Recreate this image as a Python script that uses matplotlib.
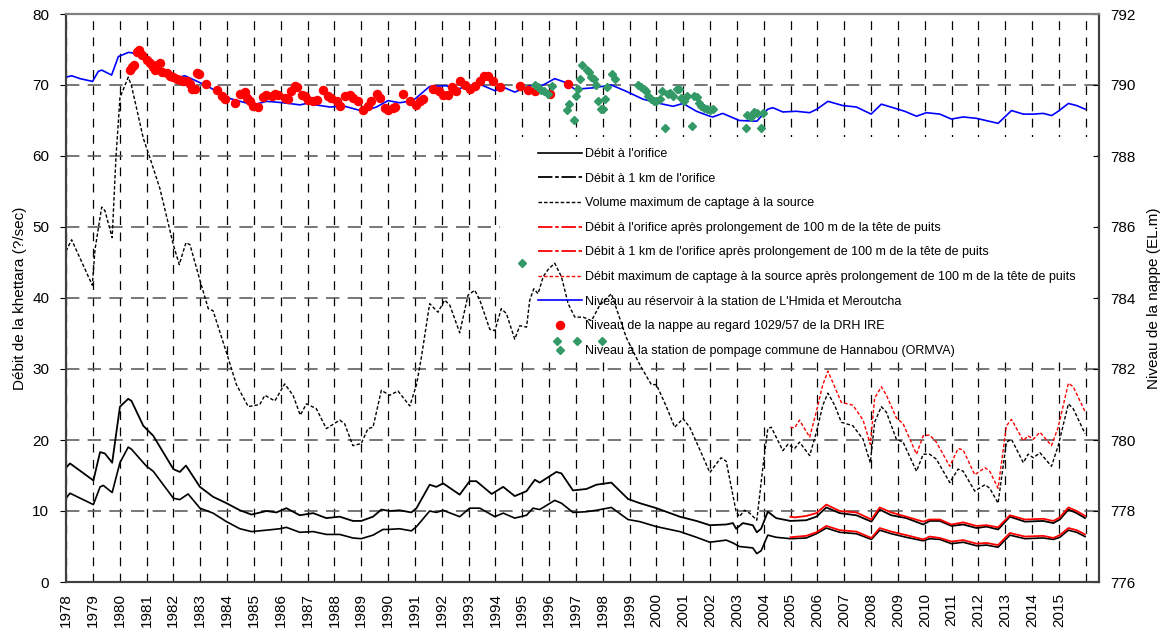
import matplotlib
matplotlib.use("Agg")
import matplotlib.pyplot as plt
from matplotlib.patches import Rectangle

plt.rcParams['font.family'] = ['Liberation Sans', 'DejaVu Sans']

# Débit à l'orifice (l/s)
yr_orif = [1978.0, 1978.15, 1979.02, 1979.27, 1979.39, 1979.72, 1980.01, 1980.32, 1980.44, 1981.0,
           1981.25, 1982.0, 1982.24, 1982.55, 1982.99, 1983.48, 1983.98, 1984.48, 1984.91, 1985.47,
           1985.97, 1986.21, 1986.71, 1987.21, 1987.7, 1988.2, 1988.69, 1989.0, 1989.44, 1989.81,
           1990.0, 1990.43, 1990.87, 1991.06, 1991.55, 1991.8, 1992.05, 1992.67, 1993.04, 1993.42,
           1993.98, 1994.29, 1994.72, 1995.16, 1995.4, 1995.65, 1996.21, 1996.46, 1996.89, 1997.39,
           1997.76, 1998.32, 1998.94, 1999.38, 2000.0, 2000.87, 2001.49, 2001.99, 2002.6, 2002.85,
           2003.09, 2003.59, 2003.74, 2003.9, 2004.15, 2004.46, 2004.99, 2005.58, 2005.96, 2006.33,
           2006.83, 2007.45, 2008.01, 2008.32, 2008.75, 2009.31, 2009.94, 2010.18, 2010.56, 2010.99,
           2011.43, 2011.93, 2012.3, 2012.73, 2013.17, 2013.73, 2014.41, 2014.79, 2015.03, 2015.35,
           2015.66, 2015.97]
q_orif = [11.8, 12.5, 10.9, 13.4, 13.6, 12.6, 16.8, 19.0, 18.7, 16.3,
          15.6, 11.8, 11.6, 12.4, 10.4, 9.7, 8.5, 7.5, 7.1, 7.3,
          7.5, 7.7, 7.0, 7.1, 6.7, 6.7, 6.2, 6.1, 6.6, 7.4,
          7.4, 7.5, 7.2, 7.8, 10.0, 9.8, 10.1, 9.2, 10.4, 10.4,
          9.2, 9.7, 9.0, 9.4, 10.4, 10.2, 11.5, 11.1, 9.8, 9.9,
          10.1, 10.5, 8.8, 8.5, 7.8, 7.1, 6.3, 5.6, 5.9, 5.5,
          5.0, 4.8, 4.0, 4.4, 6.6, 6.3, 6.1, 6.2, 6.8, 7.6,
          7.0, 6.8, 6.0, 7.3, 6.8, 6.3, 5.8, 6.1, 6.0, 5.4,
          5.6, 5.1, 5.2, 4.9, 6.6, 6.1, 6.2, 6.0, 6.3, 7.3,
          7.0, 6.4]

# Débit à 1 km de l'orifice
yr_1km = [1978.0, 1978.15, 1979.02, 1979.27, 1979.45, 1979.72, 1980.01, 1980.32, 1980.44, 1980.88,
          1981.25, 1982.0, 1982.24, 1982.47, 1982.99, 1983.48, 1983.98, 1984.48, 1984.91, 1985.47,
          1985.84, 1986.21, 1986.71, 1987.21, 1987.7, 1988.2, 1988.69, 1989.0, 1989.44, 1989.75,
          1990.06, 1990.43, 1990.87, 1991.06, 1991.55, 1991.8, 1992.05, 1992.67, 1993.04, 1993.29,
          1993.86, 1994.29, 1994.72, 1995.16, 1995.47, 1995.65, 1996.27, 1996.46, 1996.89, 1997.39,
          1997.76, 1998.32, 1998.94, 1999.38, 2000.0, 2000.87, 2001.49, 2001.99, 2002.6, 2002.85,
          2002.97, 2003.22, 2003.59, 2003.74, 2003.9, 2004.15, 2004.46, 2004.99, 2005.58, 2005.96,
          2006.33, 2006.83, 2007.45, 2008.01, 2008.32, 2008.75, 2009.31, 2009.94, 2010.18, 2010.56,
          2010.99, 2011.43, 2011.93, 2012.3, 2012.73, 2013.17, 2013.73, 2014.41, 2014.79, 2015.03,
          2015.35, 2015.66, 2015.97]
q_1km = [16.1, 16.7, 14.3, 18.3, 18.1, 16.8, 24.7, 25.8, 25.5, 22.0,
         20.6, 15.9, 15.5, 16.4, 13.4, 12.0, 11.1, 10.1, 9.5, 10.0,
         9.8, 10.4, 9.4, 9.7, 9.0, 9.2, 8.6, 8.6, 9.2, 10.2,
         10.0, 10.1, 9.8, 10.4, 13.7, 13.4, 13.9, 12.3, 14.2, 14.2,
         12.4, 13.4, 12.1, 12.8, 14.4, 14.0, 15.5, 15.3, 12.9, 13.1,
         13.7, 14.0, 11.7, 11.1, 10.4, 9.2, 8.6, 8.0, 8.1, 8.3,
         7.5, 8.3, 8.0, 7.0, 7.5, 9.9, 9.0, 8.6, 8.7, 9.2,
         10.5, 9.7, 9.4, 8.5, 10.2, 9.4, 9.0, 8.1, 8.6, 8.6,
         7.9, 8.1, 7.6, 7.8, 7.4, 9.2, 8.5, 8.6, 8.3, 8.8,
         10.2, 9.7, 9.0]

# Volume maximum de captage à la source
yr_vmax = [1978.0, 1978.21, 1978.98, 1979.08, 1979.33, 1979.45, 1979.72, 1979.86, 1980.01, 1980.32,
           1980.44, 1980.88, 1981.13, 1981.5, 1982.0, 1982.22, 1982.47, 1982.62, 1982.99, 1983.3,
           1983.48, 1983.98, 1984.35, 1984.79, 1985.22, 1985.41, 1985.78, 1986.15, 1986.46, 1986.73,
           1986.96, 1987.33, 1987.7, 1988.2, 1988.38, 1988.69, 1989.0, 1989.25, 1989.44, 1989.75,
           1990.06, 1990.37, 1990.81, 1991.06, 1991.24, 1991.55, 1991.86, 1992.11, 1992.3, 1992.67,
           1992.98, 1993.23, 1993.42, 1993.79, 1993.98, 1994.22, 1994.41, 1994.72, 1994.91, 1995.16,
           1995.28, 1995.43, 1995.59, 1995.78, 1995.96, 1996.21, 1996.46, 1996.71, 1996.96, 1997.27,
           1997.58, 1997.89, 1998.32, 1998.88, 1999.38, 1999.81, 2000.0, 2000.37, 2000.68, 2000.99,
           2001.24, 2001.61, 2001.99, 2002.22, 2002.41, 2002.6, 2002.97, 2003.09, 2003.28, 2003.47,
           2003.74, 2003.97, 2004.15, 2004.28, 2004.71, 2004.9, 2005.15, 2005.33, 2005.71, 2005.96,
           2006.2, 2006.39, 2006.64, 2006.89, 2007.32, 2007.7, 2007.97, 2008.13, 2008.38, 2008.57,
           2008.94, 2009.19, 2009.69, 2009.94, 2010.18, 2010.43, 2010.93, 2011.24, 2011.43, 2011.86,
           2012.24, 2012.42, 2012.73, 2013.04, 2013.23, 2013.67, 2013.85, 2014.04, 2014.29, 2014.72,
           2014.97, 2015.35, 2015.53, 2015.97]
q_vmax = [46.6, 48.2, 41.8, 46.8, 52.8, 52.3, 48.5, 59.7, 68.2, 71.1,
          69.9, 62.5, 59.7, 55.4, 47.5, 44.7, 47.8, 47.5, 42.5, 38.5,
          38.2, 32.3, 27.8, 24.7, 25.0, 26.3, 25.5, 27.9, 26.3, 23.5,
          25.1, 24.4, 21.6, 22.8, 22.3, 19.2, 19.5, 21.6, 21.8, 27.0,
          26.3, 26.9, 24.8, 27.8, 31.6, 39.2, 38.0, 39.7, 39.0, 35.1,
          40.4, 41.1, 39.7, 35.6, 35.4, 38.5, 37.8, 34.2, 36.1, 35.9,
          39.7, 41.3, 40.6, 43.0, 44.0, 44.9, 43.0, 39.2, 37.3, 37.3,
          36.8, 39.0, 40.6, 34.4, 30.6, 27.8, 27.8, 24.7, 21.8, 23.0,
          21.8, 18.7, 15.4, 16.6, 17.5, 17.0, 9.9, 9.2, 10.1, 9.7,
          8.7, 16.3, 21.6, 21.8, 18.5, 19.4, 18.8, 19.7, 17.8, 21.1,
          24.9, 26.6, 24.9, 22.5, 22.0, 20.1, 16.8, 22.5, 24.7, 23.9,
          20.1, 19.7, 15.6, 18.0, 18.0, 17.3, 14.0, 15.9, 15.6, 12.8,
          13.7, 13.2, 11.1, 19.7, 20.1, 16.8, 18.0, 17.5, 18.2, 16.3,
          19.2, 25.1, 24.4, 20.9]

# après prolongement de 100 m de la tête de puits (2005-2016)
yr_p_orif = [2004.99, 2005.58, 2005.96, 2006.33, 2006.83, 2007.45, 2008.01, 2008.32, 2008.75, 2009.31,
             2009.94, 2010.18, 2010.56, 2010.99, 2011.43, 2011.93, 2012.3, 2012.73, 2013.17, 2013.73,
             2014.41, 2014.79, 2015.03, 2015.35, 2015.66, 2015.97]
q_p_orif = [6.3, 6.5, 7.0, 7.9, 7.3, 7.1, 6.2, 7.6, 7.1, 6.6,
            6.0, 6.4, 6.2, 5.7, 5.9, 5.4, 5.5, 5.2, 6.9, 6.4,
            6.5, 6.2, 6.6, 7.6, 7.3, 6.7]
yr_p_1km = [2004.99, 2005.15, 2005.58, 2005.96, 2006.33, 2006.83, 2007.45, 2008.01, 2008.32, 2008.75,
            2009.31, 2009.94, 2010.18, 2010.56, 2010.99, 2011.43, 2011.93, 2012.3, 2012.73, 2013.17,
            2013.73, 2014.41, 2014.79, 2015.03, 2015.35, 2015.66, 2015.97]
q_p_1km = [9.2, 9.1, 9.3, 9.7, 10.9, 10.0, 9.8, 8.8, 10.5, 9.8,
           9.2, 8.5, 8.8, 8.8, 8.1, 8.4, 7.9, 8.0, 7.7, 9.4,
           8.8, 8.9, 8.6, 9.1, 10.5, 10.0, 9.3]
yr_p_vmax = [2004.99, 2005.15, 2005.33, 2005.71, 2005.96, 2006.2, 2006.39, 2006.64, 2006.89, 2007.32,
             2007.7, 2007.97, 2008.13, 2008.38, 2008.57, 2008.94, 2009.19, 2009.69, 2009.94, 2010.18,
             2010.43, 2010.93, 2011.24, 2011.43, 2011.86, 2012.24, 2012.42, 2012.73, 2013.04, 2013.23,
             2013.67, 2013.85, 2014.04, 2014.29, 2014.72, 2014.97, 2015.35, 2015.53, 2015.97]
q_p_vmax = [21.8, 21.7, 22.8, 20.4, 24.0, 27.8, 29.7, 27.5, 25.3, 24.9,
            22.8, 19.4, 25.9, 27.5, 26.3, 23.1, 22.3, 18.0, 20.6, 20.7,
            19.7, 16.3, 18.8, 18.6, 15.1, 16.1, 15.6, 13.2, 22.0, 22.9,
            19.9, 20.6, 20.1, 21.1, 19.2, 21.8, 28.0, 27.5, 24.0]

# Niveau au réservoir (EL.m)
yr_res = [1978.0, 1978.21, 1978.52, 1978.99, 1979.2, 1979.33, 1979.7, 1979.95, 1980.33, 1980.51,
          1981.0, 1981.99, 1982.43, 1983.24, 1984.1, 1984.98, 1985.47, 1986.1, 1986.72, 1986.96,
          1987.83, 1988.39, 1989.07, 1989.57, 1990.0, 1990.43, 1990.93, 1991.55, 1992.17, 1992.55,
          1992.92, 1993.42, 1993.98, 1994.29, 1994.72, 1995.28, 1995.78, 1996.21, 1996.58, 1996.96,
          1997.64, 1998.32, 1998.88, 1999.5, 2000.0, 2000.62, 2000.99, 2001.49, 2001.99, 2002.1,
          2002.47, 2003.09, 2003.74, 2004.15, 2004.34, 2004.71, 2005.21, 2005.71, 2005.98, 2006.39,
          2006.95, 2007.45, 2008.0, 2008.38, 2008.82, 2009.25, 2009.69, 2010.06, 2010.56, 2010.99,
          2011.43, 2011.93, 2012.73, 2013.23, 2013.67, 2014.04, 2014.41, 2014.73, 2014.97, 2015.35,
          2015.66, 2015.97]
h_res = [790.22, 790.26, 790.18, 790.10, 790.38, 790.42, 790.28, 790.80, 790.92, 790.90,
         790.66, 790.18, 790.26, 789.98, 789.62, 789.44, 789.54, 789.50, 789.44, 789.48,
         789.38, 789.40, 789.26, 789.38, 789.56, 789.50, 789.56, 789.96, 789.98, 789.86,
         789.98, 790.02, 789.84, 789.94, 789.80, 789.98, 790.00, 790.18, 790.08, 789.88,
         789.92, 790.00, 789.82, 789.60, 789.50, 789.40, 789.48, 789.26, 789.12, 789.10,
         789.20, 789.00, 788.98, 789.32, 789.36, 789.24, 789.26, 789.22, 789.32, 789.54,
         789.42, 789.38, 789.18, 789.46, 789.36, 789.26, 789.12, 789.22, 789.18, 789.04,
         789.10, 789.06, 788.92, 789.28, 789.18, 789.18, 789.20, 789.14, 789.26, 789.48,
         789.42, 789.32]

# Niveau de la nappe au regard 1029/57
yr_drh = [1980.38, 1980.45, 1980.53, 1980.63, 1980.73, 1980.82, 1981.0, 1981.13, 1981.25, 1981.31,
          1981.38, 1981.5, 1981.56, 1981.75, 1981.87, 1982.0, 1982.12, 1982.25, 1982.37, 1982.49,
          1982.62, 1982.68, 1982.8, 1982.87, 1982.97, 1983.21, 1983.61, 1983.8, 1983.92, 1984.29,
          1984.48, 1984.67, 1984.73, 1984.85, 1984.98, 1985.16, 1985.35, 1985.47, 1985.66, 1985.78,
          1985.91, 1986.16, 1986.28, 1986.4, 1986.53, 1986.62, 1986.78, 1986.9, 1987.03, 1987.21,
          1987.34, 1987.58, 1987.77, 1987.89, 1988.08, 1988.2, 1988.39, 1988.58, 1988.7, 1988.89,
          1989.07, 1989.26, 1989.38, 1989.57, 1989.69, 1989.88, 1990.0, 1990.19, 1990.25, 1990.54,
          1990.82, 1991.04, 1991.19, 1991.32, 1991.69, 1991.88, 1992.05, 1992.24, 1992.37, 1992.55,
          1992.68, 1992.86, 1993.04, 1993.23, 1993.42, 1993.57, 1993.73, 1993.91, 1994.16, 1994.91,
          1995.22, 1995.47, 1996.05, 1996.71]
h_drh = [790.42, 790.52, 790.56, 790.94, 790.98, 790.84, 790.70, 790.62, 790.52, 790.42,
         790.56, 790.62, 790.38, 790.34, 790.26, 790.22, 790.16, 790.14, 790.12, 790.10,
         790.04, 789.88, 789.88, 790.34, 790.30, 790.04, 789.86, 789.68, 789.60, 789.48,
         789.76, 789.80, 789.62, 789.54, 789.40, 789.38, 789.66, 789.72, 789.68, 789.76,
         789.72, 789.62, 789.60, 789.82, 789.98, 789.94, 789.72, 789.68, 789.58, 789.54,
         789.58, 789.86, 789.68, 789.62, 789.54, 789.40, 789.68, 789.72, 789.62, 789.54,
         789.30, 789.40, 789.54, 789.76, 789.62, 789.34, 789.30, 789.34, 789.38, 789.76,
         789.54, 789.44, 789.54, 789.60, 789.90, 789.82, 789.72, 789.72, 789.94, 789.82,
         790.10, 790.00, 789.90, 789.98, 790.10, 790.26, 790.26, 790.10, 789.94, 789.98,
         789.86, 789.84, 789.74, 790.02]

# Niveau à la station de pompage de Hannabou (ORMVA)
yr_ormva = [1995.0, 1995.48, 1995.6, 1995.7, 1995.82, 1995.95, 1996.1, 1996.29, 1996.67, 1996.75,
            1996.91, 1997.0, 1997.03, 1997.08, 1997.16, 1997.24, 1997.4, 1997.49, 1997.58, 1997.68,
            1997.74, 1997.83, 1997.93, 1997.96, 1998.0, 1998.1, 1998.17, 1998.35, 1998.44, 1999.33,
            1999.43, 1999.53, 1999.62, 1999.7, 1999.8, 1999.9, 1999.99, 2000.12, 2000.2, 2000.32,
            2000.42, 2000.5, 2000.63, 2000.75, 2000.85, 2000.93, 2001.03, 2001.15, 2001.32, 2001.4,
            2001.5, 2001.59, 2001.67, 2001.77, 2001.87, 2002.0, 2002.09, 2003.33, 2003.39, 2003.51,
            2003.64, 2003.76, 2003.91, 2003.98]
h_ormva = [785.00, 790.00, 789.94, 789.86, 789.82, 789.74, 789.96, 782.79, 789.30, 789.46,
           789.02, 789.68, 782.79, 789.90, 790.16, 790.56, 790.42, 790.38, 790.22, 790.18,
           790.00, 789.56, 789.32, 782.79, 789.32, 789.60, 789.94, 790.30, 790.16, 790.00,
           789.94, 789.88, 789.82, 789.68, 789.60, 789.54, 789.56, 789.60, 789.84, 788.78,
           789.76, 789.78, 789.68, 789.90, 789.90, 789.62, 789.56, 789.68, 788.84, 789.70,
           789.66, 789.48, 789.40, 789.34, 789.32, 789.30, 789.32, 788.80, 789.16, 789.10,
           789.24, 789.20, 788.80, 789.20]

year_ticks = list(range(1978, 2017))
year_labels = [str(y) for y in range(1978, 2016)] + ['']

fig = plt.figure(figsize=(11.69, 6.33), dpi=100)
ax = fig.add_axes([66 / 1169, 1 - 582 / 633, (1099 - 66) / 1169, (582 - 14) / 633])
ax2 = ax.twinx()

dash_1km = (0, (8, 1.5, 2, 1.5))
dotted = (0, (2.5, 1.5))
l1, = ax.plot(yr_orif, q_orif, color='black', lw=1.2, label="Débit à l'orifice")
l2, = ax.plot(yr_1km, q_1km, color='black', lw=1.3, label="Débit à 1 km de l'orifice")
l3, = ax.plot(yr_vmax, q_vmax, color='black', lw=1.0, ls=dotted,
              label="Volume maximum de captage à la source")
l4, = ax.plot(yr_p_orif, q_p_orif, color='red', lw=1.3,
              label="Débit à l'orifice après prolongement de 100 m de la tête de puits")
l5, = ax.plot(yr_p_1km, q_p_1km, color='red', lw=1.3,
              label="Débit à 1 km de l'orifice après prolongement de 100 m de la tête de puits")
l6, = ax.plot(yr_p_vmax, q_p_vmax, color='red', lw=1.0, ls=dotted,
              label="Débit maximum de captage à la source après prolongement de 100 m de la tête de puits")

l7, = ax2.plot(yr_res, h_res, color='#0000FF', lw=1.2,
               label="Niveau au réservoir à la station de L'Hmida et Meroutcha")
l8, = ax2.plot(yr_drh, h_drh, ls='none', marker='o', ms=5.8, color='#FF0000', mec='#FF0000',
               label="Niveau de la nappe au regard 1029/57 de la DRH IRE")
l9, = ax2.plot(yr_ormva, h_ormva, ls='none', marker='D', ms=4, color='#339966', mec='#339966',
               label="Niveau à la station de pompage commune de Hannabou (ORMVA)")

ax.set_xlim(1978, 2016.49)
ax.set_ylim(0, 80)
ax2.set_ylim(776, 792)
ax.set_yticks(range(0, 81, 10))
ax2.set_yticks(range(776, 793, 2))
ax.set_xticks(year_ticks)
ax.set_xticklabels(year_labels, rotation=90, fontsize=11)
ax.tick_params(axis='x', length=0, pad=8)
ax.tick_params(axis='y', labelsize=11, direction='out', length=4, pad=8)
ax2.tick_params(axis='y', labelsize=11, direction='in', length=4, pad=8)

ax.set_axisbelow(True)
ax.yaxis.grid(True, color='#606060', lw=1.2, ls=(0, (8, 5)))
ax.xaxis.grid(True, color='black', lw=0.9, ls=(0, (7, 6)))

# white legend area hides the grid, the curves pass over it
ax.add_patch(Rectangle((500 / 1169, 1 - 360 / 633), 597 / 1169, 223 / 633,
                       transform=fig.transFigure, facecolor='white', edgecolor='none', zorder=1))

for sp in list(ax.spines.values()) + list(ax2.spines.values()):
    sp.set_color('#404040')
    sp.set_linewidth(1.5)
ax2.spines['top'].set_color('#808080')

ax.set_ylabel("Débit de la khettara (?/sec)", fontsize=11, labelpad=4)
ax2.set_ylabel("Niveau de la nappe (EL.m)", fontsize=11, labelpad=8)

handles = [l1, l2, l3, l4, l5, l6, l7, l8, l9]
leg = ax2.legend(handles=handles, loc='upper left', bbox_to_anchor=(538 / 1169, 1 - 148 / 633),
                 bbox_transform=fig.transFigure, frameon=False, fontsize=9, handlelength=3.5,
                 handletextpad=0.25, labelspacing=1.01, borderpad=0, borderaxespad=0, numpoints=1)
leg_lines = leg.get_lines()
for i in (1, 3, 4):
    leg_lines[i].set_linestyle(dash_1km)

plt.savefig('out.png', dpi=100)
